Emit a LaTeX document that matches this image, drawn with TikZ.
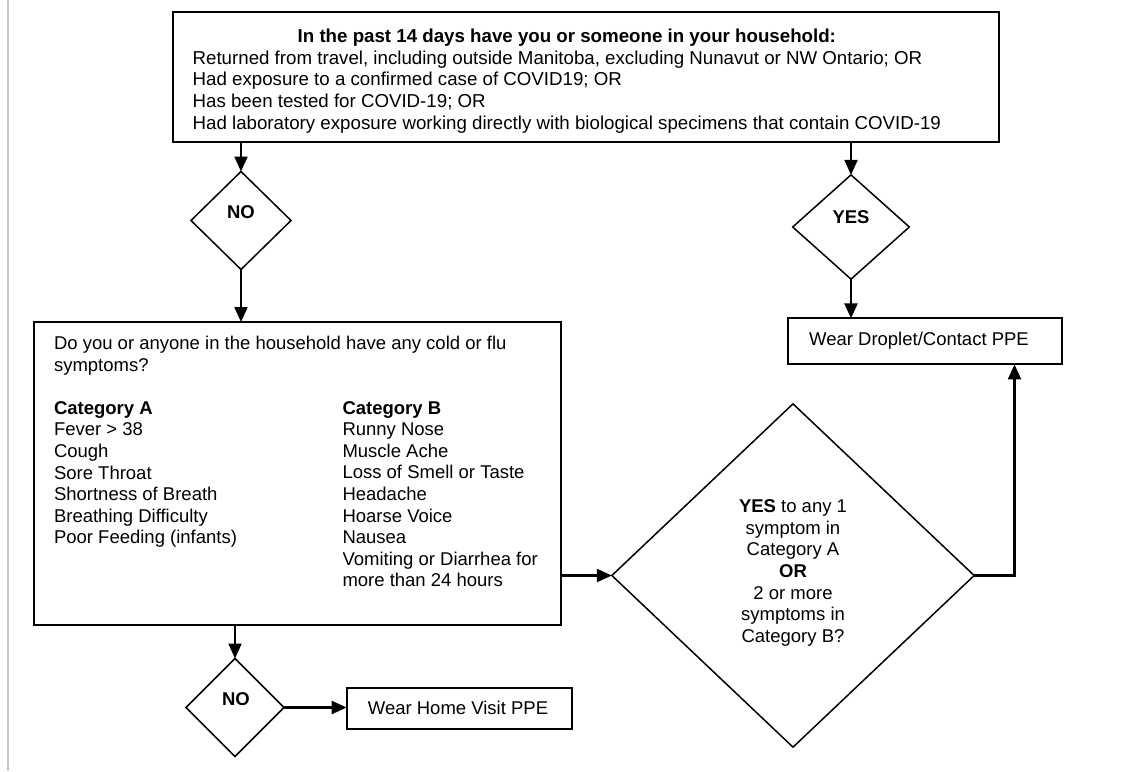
\documentclass[tikz,border=0pt]{standalone}
\usepackage{fontspec}
\setmainfont{Liberation Sans}
\usetikzlibrary{shapes.geometric,arrows.meta}
\begin{document}
\begin{tikzpicture}[x=1pt,y=-1pt,
  font=\fontsize{18.5}{21.6}\selectfont,
  box/.style={draw,line width=2pt,inner sep=0pt,outer sep=0pt},
  dia/.style={draw,diamond,line width=1.5pt,inner sep=0pt,outer sep=0pt},
  txt/.style={inner sep=0pt,outer sep=0pt},
  lbl/.style={inner sep=0pt,outer sep=0pt,font=\fontsize{18.5}{21.6}\selectfont\bfseries},
  arr/.style={line width=2.2pt,-{Triangle[length=15pt,width=13pt]}}]
\useasboundingbox (0,0) rectangle (1147,771);
\draw[line width=2pt,color=black!22] (7.5,0) -- (7.5,771);

% top question box
\node[box,minimum width=826.5pt,minimum height=130pt] (top) at (585.75,77) {};
\node[txt,anchor=north east,font=\fontsize{18.7}{21.7}\selectfont] (toptxt) at (941,27.3) {\begin{tabular}{@{}l@{}}
\multicolumn{1}{@{}c@{}}{\bfseries In the past 14 days have you or someone in your household:}\\
Returned from travel, including outside Manitoba, excluding Nunavut or NW Ontario; OR\\
Had exposure to a confirmed case of COVID19; OR\\
Has been tested for COVID-19; OR\\
Had laboratory exposure working directly with biological specimens that contain COVID-19
\end{tabular}};

% NO / YES diamonds
\node[dia,minimum width=100pt,minimum height=98pt] (no1) at (241,220.5) {};
\node[lbl] (no1txt) at (241,212) {NO};
\node[dia,minimum width=116.6pt,minimum height=104.3pt] (yes) at (851,227) {};
\node[lbl] (yestxt) at (851,217.5) {YES};

% droplet box
\node[box,minimum width=273.4pt,minimum height=46pt] (drop) at (925,341.4) {};
\node[txt] (droptxt) at (919,341) {Wear Droplet/Contact PPE};

% main symptoms box
\node[box,minimum width=527pt,minimum height=303pt] (main) at (297.5,473.5) {};
\node[txt,anchor=north west] (cata) at (54,334.4) {\begin{tabular}{@{}l@{}}
Do you or anyone in the household have any cold or flu\\
symptoms?\\
\\
\textbf{Category A}\\
Fever > 38\\
Cough\\
Sore Throat\\
Shortness of Breath\\
Breathing Difficulty\\
Poor Feeding (infants)
\end{tabular}};
\node[txt,anchor=north west] (catb) at (342.5,399) {\begin{tabular}{@{}l@{}}
\textbf{Category B}\\
Runny Nose\\
Muscle Ache\\
Loss of Smell or Taste\\
Headache\\
Hoarse Voice\\
Nausea\\
Vomiting or Diarrhea for\\
more than 24 hours
\end{tabular}};

% big decision diamond
\node[dia,minimum width=362.3pt,minimum height=343.3pt] (big) at (793,575.5) {};
\node[txt,anchor=north] (bigtxt) at (793,497.6) {\begin{tabular}{@{}c@{}}
\textbf{YES} to any 1\\
symptom in\\
Category A\\
\textbf{OR}\\
2 or more\\
symptoms in\\
Category B?
\end{tabular}};

% bottom NO diamond and home visit box
\node[dia,minimum width=98pt,minimum height=98pt] (no2) at (235,707.5) {};
\node[lbl] (no2txt) at (236,698.8) {NO};
\node[box,minimum width=225pt,minimum height=41pt] (home) at (459.2,708.3) {};
\node[txt] (hometxt) at (458,707.8) {Wear Home Visit PPE};

% connectors
\draw[arr] (top.south -| no1.north) -- (no1.north);
\draw[arr] (no1.south) -- (no1.south |- main.north);
\draw[arr] (top.south -| yes.north) -- (yes.north);
\draw[arr] (yes.south) -- (yes.south |- drop.north);
\draw[arr] (main.east |- big.west) -- (big.west);
\coordinate (bend) at (1014.5,575.5);
\draw[arr] (big.east) -- (bend) -- (bend |- drop.south);
\draw[arr] (main.south -| no2.north) -- (no2.north);
\draw[arr] (no2.east) -- (no2.east -| home.west);
\end{tikzpicture}
\end{document}
